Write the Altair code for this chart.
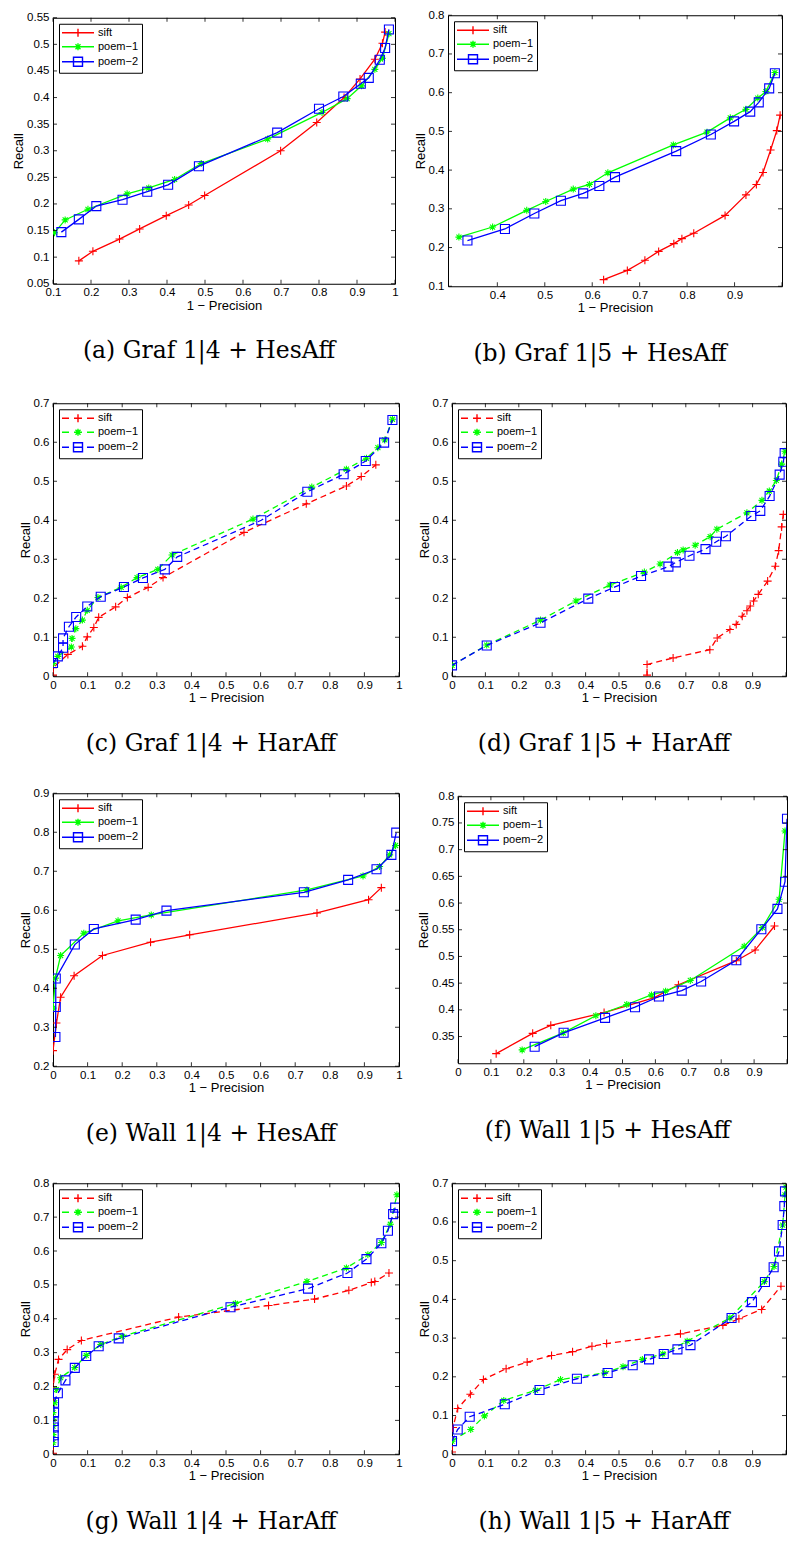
import altair as alt
import pandas as pd

SERIES = ["sift", "poem−1", "poem−2"]
COLORS = ["#ff0000", "#00ff00", "#0000ff"]

# ---------------- (a) Graf 1|4 + HesAff ----------------
A_SIFT_X = [0.168, 0.205, 0.275, 0.328, 0.398, 0.457, 0.499, 0.699, 0.794, 0.866, 0.908, 0.947, 0.967, 0.974]
A_SIFT_Y = [0.093, 0.111, 0.134, 0.153, 0.178, 0.198, 0.216, 0.300, 0.353, 0.400, 0.435, 0.472, 0.502, 0.523]
A_P1_X = [0.104, 0.132, 0.192, 0.295, 0.352, 0.420, 0.490, 0.665, 0.808, 0.874, 0.912, 0.947, 0.967, 0.984]
A_P1_Y = [0.146, 0.170, 0.190, 0.219, 0.230, 0.246, 0.276, 0.322, 0.372, 0.398, 0.422, 0.453, 0.474, 0.520]
A_P2_X = [0.122, 0.168, 0.214, 0.283, 0.348, 0.403, 0.484, 0.690, 0.800, 0.864, 0.910, 0.931, 0.960, 0.974, 0.984]
A_P2_Y = [0.147, 0.171, 0.196, 0.208, 0.223, 0.236, 0.271, 0.334, 0.379, 0.402, 0.426, 0.437, 0.471, 0.493, 0.528]

# ---------------- (b) Graf 1|5 + HesAff ----------------
B_SIFT_X = [0.624, 0.674, 0.711, 0.740, 0.772, 0.789, 0.814, 0.880, 0.924, 0.946, 0.960, 0.976, 0.989, 0.996]
B_SIFT_Y = [0.117, 0.141, 0.167, 0.190, 0.210, 0.223, 0.237, 0.283, 0.336, 0.363, 0.394, 0.452, 0.502, 0.542]
B_P1_X = [0.319, 0.390, 0.462, 0.502, 0.560, 0.594, 0.633, 0.771, 0.842, 0.891, 0.924, 0.949, 0.966, 0.985]
B_P1_Y = [0.227, 0.253, 0.296, 0.319, 0.351, 0.363, 0.393, 0.465, 0.498, 0.535, 0.557, 0.586, 0.603, 0.652]
B_P2_X = [0.337, 0.416, 0.478, 0.534, 0.581, 0.615, 0.648, 0.777, 0.850, 0.899, 0.933, 0.951, 0.973, 0.985]
B_P2_Y = [0.218, 0.248, 0.288, 0.321, 0.340, 0.359, 0.382, 0.449, 0.492, 0.526, 0.551, 0.575, 0.611, 0.650]

# ---------------- (c) Graf 1|4 + HarAff ----------------
C_SIFT_X = [0.0, 0.0, 0.043, 0.085, 0.099, 0.118, 0.132, 0.181, 0.215, 0.275, 0.318, 0.552, 0.732, 0.848, 0.891, 0.933]
C_SIFT_Y = [0.003, 0.022, 0.056, 0.077, 0.101, 0.125, 0.151, 0.178, 0.202, 0.228, 0.253, 0.369, 0.442, 0.488, 0.512, 0.542]
C_P1_X = [0.0, 0.014, 0.053, 0.055, 0.066, 0.085, 0.099, 0.130, 0.197, 0.243, 0.303, 0.344, 0.578, 0.748, 0.848, 0.906, 0.939, 0.959, 0.981]
C_P1_Y = [0.033, 0.051, 0.075, 0.097, 0.122, 0.144, 0.169, 0.202, 0.228, 0.253, 0.274, 0.311, 0.403, 0.485, 0.531, 0.559, 0.586, 0.606, 0.659]
C_P2_X = [0.0, 0.014, 0.029, 0.029, 0.046, 0.067, 0.099, 0.138, 0.205, 0.260, 0.323, 0.359, 0.602, 0.735, 0.840, 0.904, 0.957, 0.981]
C_P2_Y = [0.034, 0.051, 0.073, 0.097, 0.127, 0.152, 0.179, 0.204, 0.229, 0.252, 0.274, 0.306, 0.400, 0.473, 0.518, 0.552, 0.599, 0.657]

# ---------------- (d) Graf 1|5 + HarAff ----------------
D_SIFT_X = [0.584, 0.584, 0.662, 0.772, 0.794, 0.832, 0.851, 0.869, 0.883, 0.893, 0.903, 0.917, 0.945, 0.968, 0.978, 0.987, 0.992]
D_SIFT_Y = [0.003, 0.030, 0.047, 0.068, 0.098, 0.120, 0.133, 0.154, 0.168, 0.180, 0.193, 0.210, 0.244, 0.282, 0.322, 0.383, 0.415]
D_P1_X = [0.0, 0.104, 0.265, 0.371, 0.473, 0.576, 0.623, 0.675, 0.692, 0.728, 0.773, 0.793, 0.883, 0.928, 0.950, 0.971, 0.987, 0.997]
D_P1_Y = [0.028, 0.080, 0.144, 0.193, 0.234, 0.267, 0.288, 0.317, 0.324, 0.336, 0.358, 0.377, 0.419, 0.451, 0.475, 0.502, 0.544, 0.577]
D_P2_X = [0.0, 0.104, 0.265, 0.408, 0.488, 0.566, 0.648, 0.670, 0.711, 0.759, 0.791, 0.820, 0.896, 0.923, 0.951, 0.981, 0.992, 0.996]
D_P2_Y = [0.028, 0.079, 0.137, 0.199, 0.229, 0.257, 0.281, 0.292, 0.309, 0.326, 0.345, 0.359, 0.411, 0.424, 0.462, 0.517, 0.550, 0.572]

# ---------------- (e) Wall 1|4 + HesAff ----------------
E_SIFT_X = [0.0, 0.010, 0.022, 0.061, 0.143, 0.282, 0.395, 0.763, 0.912, 0.949]
E_SIFT_Y = [0.240, 0.311, 0.377, 0.432, 0.484, 0.518, 0.537, 0.593, 0.627, 0.658]
E_P1_X = [0.0, 0.007, 0.022, 0.089, 0.188, 0.284, 0.734, 0.896, 0.944, 0.973, 0.990]
E_P1_Y = [0.349, 0.426, 0.484, 0.541, 0.573, 0.588, 0.652, 0.688, 0.712, 0.742, 0.766]
E_P2_X = [0.007, 0.008, 0.008, 0.063, 0.118, 0.239, 0.328, 0.725, 0.853, 0.935, 0.978, 0.992]
E_P2_Y = [0.275, 0.352, 0.425, 0.512, 0.552, 0.576, 0.599, 0.646, 0.678, 0.705, 0.742, 0.799]

# ---------------- (f) Wall 1|5 + HesAff ----------------
F_SIFT_X = [0.116, 0.227, 0.282, 0.444, 0.597, 0.670, 0.846, 0.903, 0.962]
F_SIFT_Y = [0.318, 0.356, 0.371, 0.395, 0.423, 0.447, 0.492, 0.512, 0.557]
F_P1_X = [0.195, 0.320, 0.419, 0.513, 0.588, 0.631, 0.706, 0.870, 0.925, 0.976, 0.994]
F_P1_Y = [0.325, 0.357, 0.389, 0.410, 0.428, 0.435, 0.455, 0.519, 0.554, 0.607, 0.735]
F_P2_X = [0.233, 0.321, 0.447, 0.538, 0.611, 0.680, 0.739, 0.846, 0.922, 0.971, 0.994, 1.0]
F_P2_Y = [0.331, 0.357, 0.385, 0.405, 0.425, 0.436, 0.453, 0.493, 0.551, 0.589, 0.640, 0.758]

# ---------------- (g) Wall 1|4 + HarAff ----------------
G_SIFT_X = [0.0, 0.0, 0.005, 0.016, 0.041, 0.082, 0.363, 0.623, 0.756, 0.855, 0.920, 0.930, 0.971]
G_SIFT_Y = [0.003, 0.196, 0.236, 0.280, 0.309, 0.336, 0.405, 0.439, 0.458, 0.484, 0.507, 0.510, 0.535]
G_P1_X = [0.0, 0.0, 0.0, 0.0, 0.0, 0.005, 0.010, 0.022, 0.063, 0.096, 0.138, 0.200, 0.527, 0.734, 0.848, 0.910, 0.949, 0.975, 0.994]
G_P1_Y = [0.034, 0.058, 0.083, 0.103, 0.123, 0.152, 0.191, 0.226, 0.256, 0.292, 0.324, 0.348, 0.445, 0.510, 0.550, 0.589, 0.625, 0.679, 0.766]
G_P2_X = [0.002, 0.002, 0.002, 0.002, 0.003, 0.003, 0.014, 0.036, 0.063, 0.096, 0.132, 0.190, 0.513, 0.737, 0.851, 0.906, 0.949, 0.968, 0.983, 0.989]
G_P2_Y = [0.036, 0.056, 0.079, 0.098, 0.123, 0.152, 0.180, 0.218, 0.255, 0.290, 0.319, 0.342, 0.434, 0.489, 0.535, 0.576, 0.623, 0.660, 0.709, 0.728]

# ---------------- (h) Wall 1|5 + HarAff ----------------
H_SIFT_X = [0.0, 0.003, 0.017, 0.055, 0.094, 0.162, 0.225, 0.298, 0.361, 0.419, 0.463, 0.684, 0.811, 0.859, 0.927, 0.985]
H_SIFT_Y = [0.006, 0.069, 0.118, 0.155, 0.193, 0.221, 0.238, 0.255, 0.265, 0.279, 0.286, 0.311, 0.333, 0.350, 0.374, 0.434]
H_P1_X = [0.0, 0.056, 0.097, 0.155, 0.250, 0.325, 0.456, 0.512, 0.570, 0.631, 0.704, 0.832, 0.935, 0.964, 0.990, 0.997, 1.0]
H_P1_Y = [0.034, 0.064, 0.099, 0.139, 0.165, 0.193, 0.210, 0.226, 0.245, 0.259, 0.292, 0.352, 0.446, 0.485, 0.592, 0.670, 0.690]
H_P2_X = [0.0, 0.017, 0.053, 0.158, 0.262, 0.374, 0.466, 0.541, 0.590, 0.634, 0.675, 0.714, 0.837, 0.898, 0.937, 0.963, 0.979, 0.990, 0.995, 0.997]
H_P2_Y = [0.034, 0.064, 0.097, 0.129, 0.166, 0.195, 0.210, 0.230, 0.245, 0.259, 0.271, 0.282, 0.352, 0.393, 0.445, 0.483, 0.524, 0.592, 0.641, 0.679]

# axis ticks / labels
TICKS_X_A = [0.1, 0.2, 0.3, 0.4, 0.5, 0.6, 0.7, 0.8, 0.9, 1.0]
TICKS_X_B = [0.4, 0.5, 0.6, 0.7, 0.8, 0.9, 1.0]
LABELS_X_B = [0.4, 0.5, 0.6, 0.7, 0.8, 0.9]
TICKS_X_01 = [0.0, 0.1, 0.2, 0.3, 0.4, 0.5, 0.6, 0.7, 0.8, 0.9, 1.0]
LABELS_X_R = [0.0, 0.1, 0.2, 0.3, 0.4, 0.5, 0.6, 0.7, 0.8, 0.9]
TICKS_Y_A = [0.05, 0.1, 0.15, 0.2, 0.25, 0.3, 0.35, 0.4, 0.45, 0.5, 0.55]
TICKS_Y_B = [0.1, 0.2, 0.3, 0.4, 0.5, 0.6, 0.7, 0.8]
TICKS_Y_07 = [0.0, 0.1, 0.2, 0.3, 0.4, 0.5, 0.6, 0.7]
TICKS_Y_E = [0.2, 0.3, 0.4, 0.5, 0.6, 0.7, 0.8, 0.9]
TICKS_Y_F = [0.35, 0.4, 0.45, 0.5, 0.55, 0.6, 0.65, 0.7, 0.75, 0.8]
TICKS_Y_G = [0.0, 0.1, 0.2, 0.3, 0.4, 0.5, 0.6, 0.7, 0.8]

# marker glyphs (unit paths)
PLUS = "M-0.8,0L0.8,0M0,-0.8L0,0.8"
STAR = "M-0.7,0L0.7,0M0,-0.7L0,0.7M-0.5,-0.5L0.5,0.5M-0.5,0.5L0.5,-0.5"
SQUARE = "M-0.9,-0.9L0.9,-0.9L0.9,0.9L-0.9,0.9Z"
MARKERS = [PLUS, STAR, SQUARE]

# legend glyphs (unit = 5px, symbol centre 6px from the entry's left)
LEG_SOLID = "M-1.2,0L5.2,0"
LEG_DASHED = "M-1.2,0L0.2,0M1.2,0L2.8,0M3.8,0L5.2,0"
LEG_MARK = [
    "M2,-0.8L2,0.8M1.2,0L2.8,0",
    "M2,-0.7L2,0.7M1.3,0L2.7,0M1.5,-0.5L2.5,0.5M1.5,0.5L2.5,-0.5",
    "M1.1,-0.9L2.9,-0.9L2.9,0.9L1.1,0.9Z",
]

FONT = "Liberation Sans"


def panel(series, xdom, ydom, xlabels, xticks, ylabels, yticks, dashed, caption, w, h):
    rows = []
    for name, (xs, ys) in zip(SERIES, series):
        for i, (x, y) in enumerate(zip(xs, ys)):
            rows.append({"s": name, "i": i, "x": x, "y": y})
    df = pd.DataFrame(rows)
    xsc = alt.Scale(domain=xdom, nice=False, zero=False)
    ysc = alt.Scale(domain=ydom, nice=False, zero=False)
    xax = alt.Axis(values=xlabels, format=".2~f", title="1 − Precision")
    yax = alt.Axis(values=ylabels, format=".2~f", title="Recall")

    def X(field):
        return alt.X(field, scale=xsc, axis=xax)

    def Y(field):
        return alt.Y(field, scale=ysc, axis=yax)

    base = alt.Chart(df)
    layers = []
    for k, name in enumerate(SERIES):
        sub = base.transform_filter(alt.datum.s == name)
        lkw = dict(color=COLORS[k], strokeWidth=1.3, clip=True)
        if dashed:
            lkw["strokeDash"] = [6, 4]
        line = sub.mark_line(**lkw).encode(x=X("x:Q"), y=Y("y:Q"), order="i:Q")
        pts = sub.mark_point(shape=MARKERS[k], size=100, color=COLORS[k], filled=False,
                             strokeWidth=1.1, opacity=1, clip=True).encode(x=X("x:Q"), y=Y("y:Q"))
        layers += [line, pts]

    tx = alt.Chart(pd.DataFrame({"x": xticks}))
    ty = alt.Chart(pd.DataFrame({"y": yticks}))
    rk = dict(color="black", strokeWidth=0.8)
    layers += [
        tx.mark_rule(**rk).encode(x=X("x:Q"), y=alt.value(h), y2=alt.value(h - 4)),
        tx.mark_rule(**rk).encode(x=X("x:Q"), y=alt.value(0), y2=alt.value(4)),
        ty.mark_rule(**rk).encode(y=Y("y:Q"), x=alt.value(0), x2=alt.value(4)),
        ty.mark_rule(**rk).encode(y=Y("y:Q"), x=alt.value(w), x2=alt.value(w - 4)),
    ]

    legline = LEG_DASHED if dashed else LEG_SOLID
    leg = alt.Legend(title=None, orient="top-left", offset=6, padding=3, strokeColor="black",
                     fillColor="white", symbolSize=100, symbolStrokeWidth=1.4, labelFont=FONT,
                     labelFontSize=11, labelColor="black", labelOffset=24, rowPadding=0,
                     cornerRadius=0)
    legend_layer = base.transform_filter("datum.x > 5").mark_point(filled=False, opacity=1).encode(
        x=X("x:Q"),
        y=Y("y:Q"),
        color=alt.Color("s:N", scale=alt.Scale(domain=SERIES, range=COLORS), legend=leg),
        shape=alt.Shape("s:N", scale=alt.Scale(domain=SERIES, range=[legline + m for m in LEG_MARK]),
                        legend=leg),
    )
    layers.append(legend_layer)

    return alt.layer(*layers).properties(
        width=w, height=h,
        title=alt.TitleParams(text=caption, orient="bottom", anchor="middle", frame="group",
                              font="DejaVu Serif", fontSize=23.5, fontWeight="normal",
                              color="black", offset=27, dx=-15),
    )


pa = panel([(A_SIFT_X, A_SIFT_Y), (A_P1_X, A_P1_Y), (A_P2_X, A_P2_Y)], [0.1, 1.0], [0.05, 0.55],
           TICKS_X_A, TICKS_X_A, TICKS_Y_A, TICKS_Y_A, False, "(a) Graf 1|4 + HesAff", 342, 266)
pb = panel([(B_SIFT_X, B_SIFT_Y), (B_P1_X, B_P1_Y), (B_P2_X, B_P2_Y)], [0.296, 1.0], [0.1, 0.8],
           LABELS_X_B, TICKS_X_B, TICKS_Y_B, TICKS_Y_B, False, "(b) Graf 1|5 + HesAff", 334, 271)
pc = panel([(C_SIFT_X, C_SIFT_Y), (C_P1_X, C_P1_Y), (C_P2_X, C_P2_Y)], [0.0, 1.0], [0.0, 0.7],
           TICKS_X_01, TICKS_X_01, TICKS_Y_07, TICKS_Y_07, True, "(c) Graf 1|4 + HarAff", 346, 273)
pd_ = panel([(D_SIFT_X, D_SIFT_Y), (D_P1_X, D_P1_Y), (D_P2_X, D_P2_Y)], [0.0, 1.0], [0.0, 0.7],
            LABELS_X_R, TICKS_X_01, TICKS_Y_07, TICKS_Y_07, True, "(d) Graf 1|5 + HarAff", 334, 273)
pe = panel([(E_SIFT_X, E_SIFT_Y), (E_P1_X, E_P1_Y), (E_P2_X, E_P2_Y)], [0.0, 1.0], [0.2, 0.9],
           TICKS_X_01, TICKS_X_01, TICKS_Y_E, TICKS_Y_E, False, "(e) Wall 1|4 + HesAff", 346, 273)
pf = panel([(F_SIFT_X, F_SIFT_Y), (F_P1_X, F_P1_Y), (F_P2_X, F_P2_Y)], [0.0, 1.0], [0.3, 0.8],
           LABELS_X_R, TICKS_X_01, TICKS_Y_F, TICKS_Y_F, False, "(f) Wall 1|5 + HesAff", 329, 267)
pg = panel([(G_SIFT_X, G_SIFT_Y), (G_P1_X, G_P1_Y), (G_P2_X, G_P2_Y)], [0.0, 1.0], [0.0, 0.8],
           TICKS_X_01, TICKS_X_01, TICKS_Y_G, TICKS_Y_G, True, "(g) Wall 1|4 + HarAff", 346, 271)
ph = panel([(H_SIFT_X, H_SIFT_Y), (H_P1_X, H_P1_Y), (H_P2_X, H_P2_Y)], [0.0, 1.0], [0.0, 0.7],
           LABELS_X_R, TICKS_X_01, TICKS_Y_07, TICKS_Y_07, True, "(h) Wall 1|5 + HarAff", 334, 271)


def row(l, r):
    return alt.hconcat(l, r, spacing=14, center=True).resolve_scale(
        color="independent", shape="independent").resolve_legend(color="independent", shape="independent")


chart = alt.vconcat(row(pa, pb), row(pc, pd_), row(pe, pf), row(pg, ph), spacing=30).resolve_scale(
    color="independent", shape="independent").resolve_legend(
    color="independent", shape="independent").properties(
    padding={"left": 4, "top": 0, "right": 0, "bottom": 0}
).configure_view(stroke="black", strokeWidth=1).configure_axis(
    domain=False, ticks=False, grid=False, labelFont=FONT, labelFontSize=11.5, labelColor="black",
    titleFont=FONT, titleFontSize=13, titleFontWeight="normal", titleColor="black",
    labelFlush=False, labelOverlap=False,
).configure_axisX(labelPadding=3, titlePadding=1).configure_axisY(labelPadding=4, titlePadding=1)

chart.save("out.html", embed_options={"renderer": "svg", "actions": False})
